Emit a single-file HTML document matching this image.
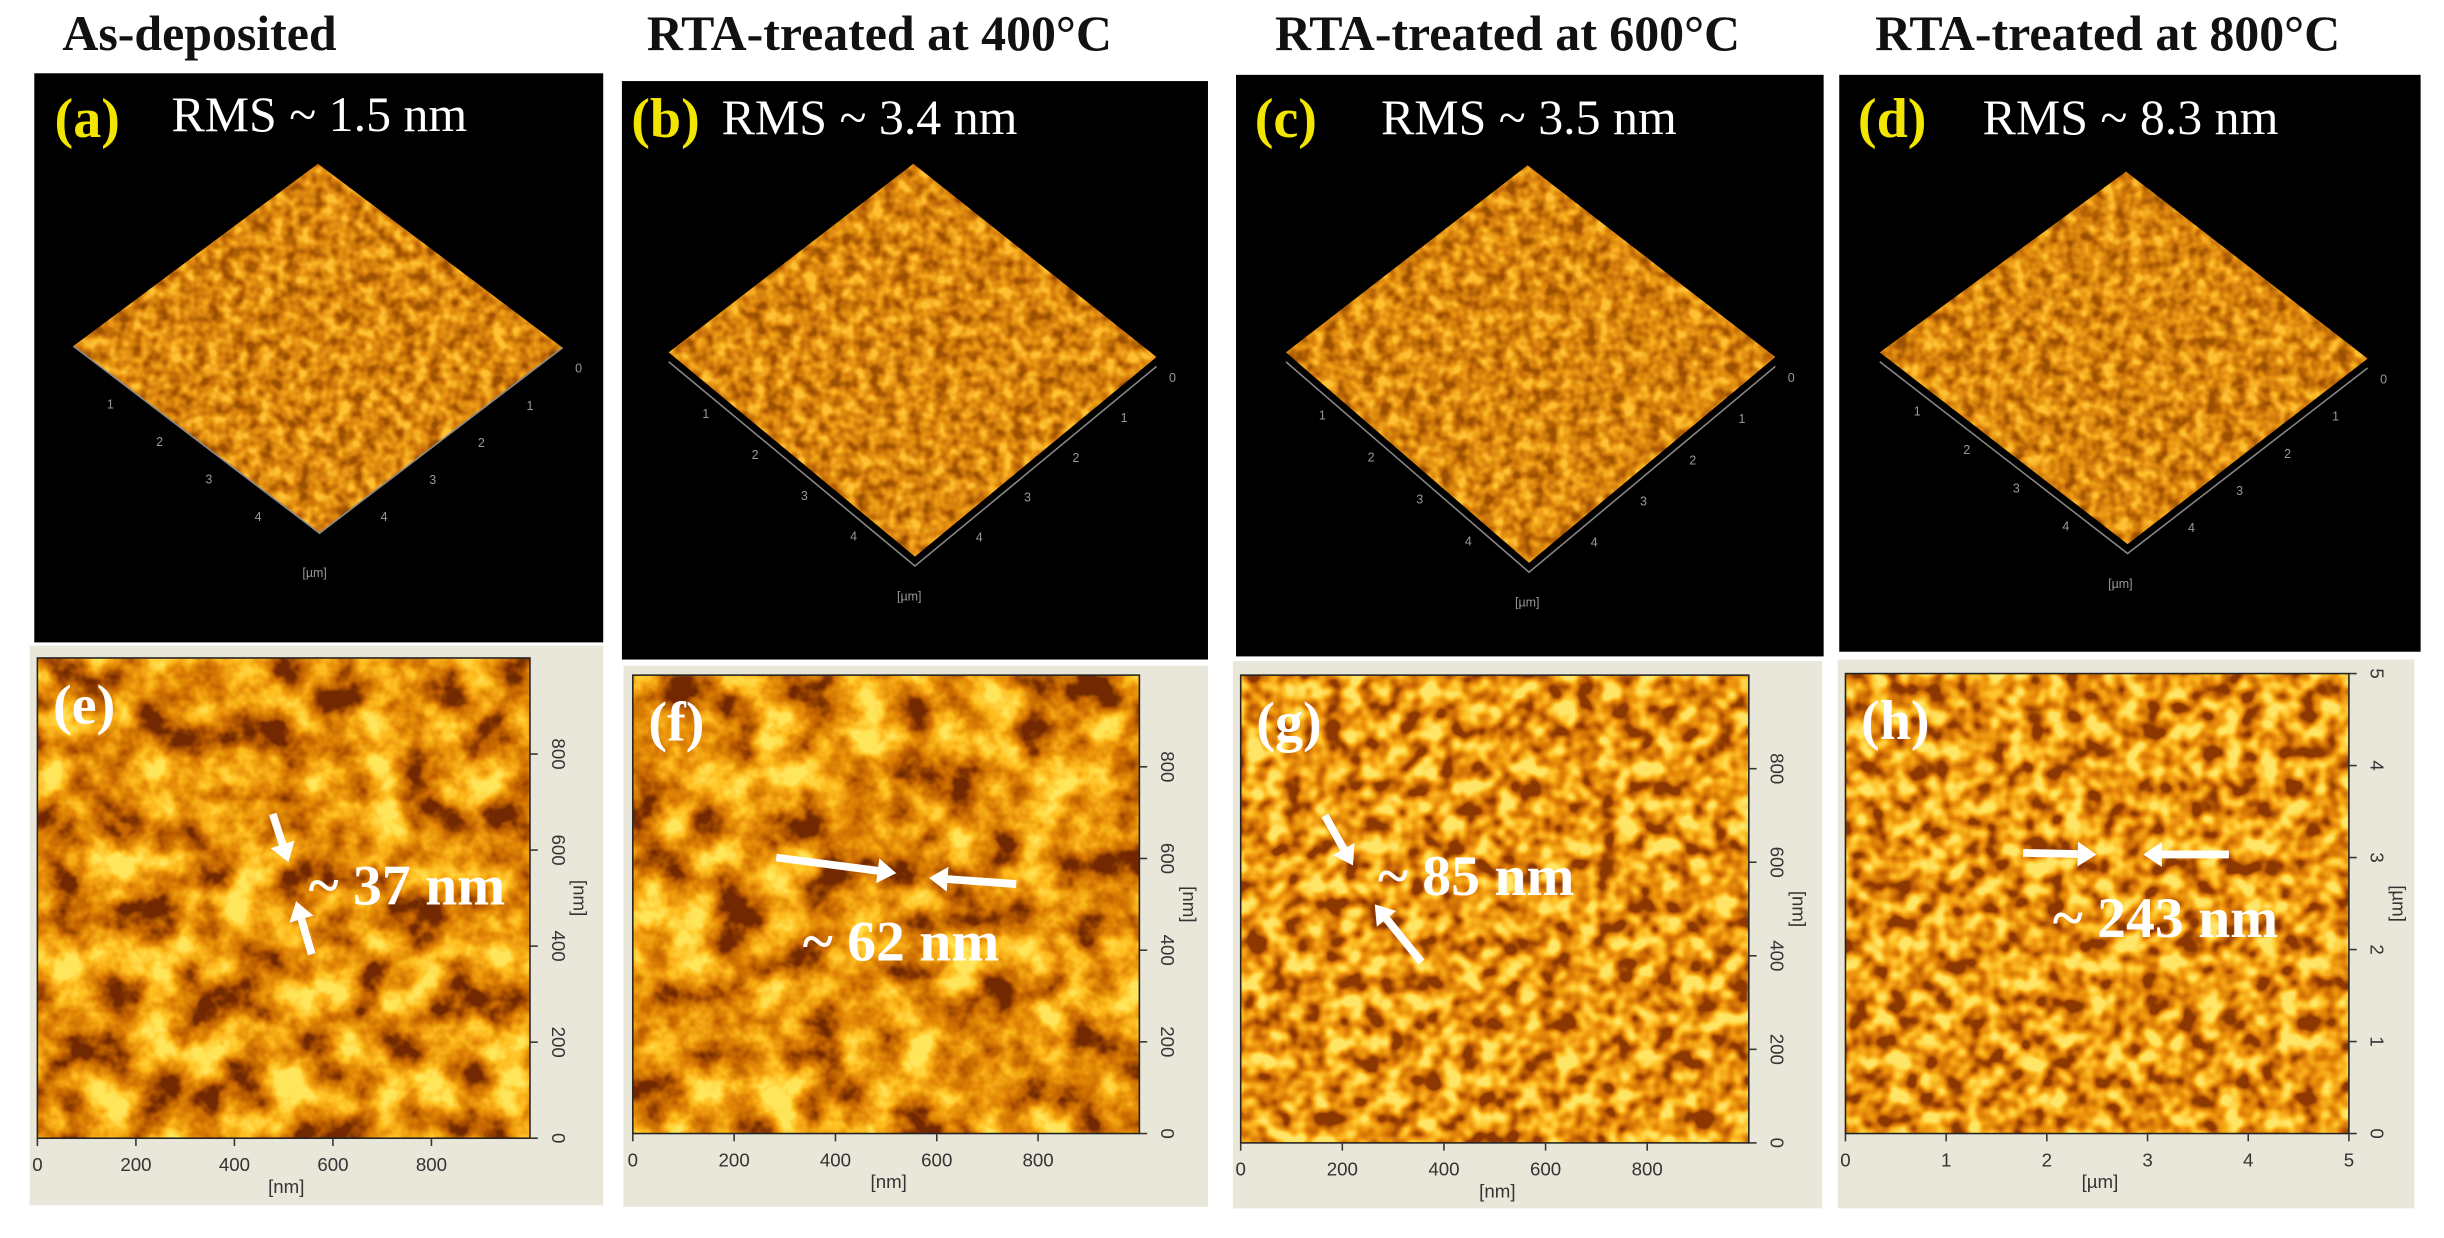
<!DOCTYPE html>
<html><head><meta charset="utf-8"><style>
html,body{margin:0;padding:0;background:#fff;}
svg{display:block;}
.ttl{font-family:"Liberation Serif",serif;font-weight:bold;font-size:32px;fill:#111;}
.lab{font-family:"Liberation Serif",serif;font-weight:bold;font-size:36px;fill:#f2e600;}
.labw{font-family:"Liberation Serif",serif;font-weight:bold;font-size:36px;fill:#fff;}
.rms{font-family:"Liberation Serif",serif;font-size:32px;fill:#fff;}
.meas{font-family:"Liberation Serif",serif;font-weight:bold;font-size:37px;fill:#fff;}
.tk{font-family:"Liberation Sans",sans-serif;font-size:12px;fill:#333;}
.tk3{font-family:"Liberation Sans",sans-serif;font-size:8px;fill:#999;}
</style></head><body>
<svg id="fig" width="2444" height="1238" viewBox="0 0 1568 794" preserveAspectRatio="none" xmlns="http://www.w3.org/2000/svg">
<defs>
<filter id="tx0" x="0" y="0" width="1" height="1" color-interpolation-filters="sRGB"><feTurbulence type="fractalNoise" baseFrequency="0.12" numOctaves="2" seed="3"/><feColorMatrix type="matrix" values="2 0 0 0 -0.5 2 0 0 0 -0.5 2 0 0 0 -0.5 0 0 0 0 1"/><feComponentTransfer><feFuncR type="table" tableValues="0.62 0.8 0.92 1"/><feFuncG type="table" tableValues="0.32 0.46 0.6 0.76"/><feFuncB type="table" tableValues="0 0.04 0.08 0.2"/></feComponentTransfer></filter>
<filter id="tx1" x="0" y="0" width="1" height="1" color-interpolation-filters="sRGB"><feTurbulence type="fractalNoise" baseFrequency="0.035" numOctaves="4" seed="7"/><feColorMatrix type="matrix" values="2.2 0 0 0 -0.6 2.2 0 0 0 -0.6 2.2 0 0 0 -0.6 0 0 0 0 1"/><feComponentTransfer><feFuncR type="table" tableValues="0.45 0.75 0.9 1 1"/><feFuncG type="table" tableValues="0.16 0.38 0.55 0.74 0.9"/><feFuncB type="table" tableValues="0 0 0.03 0.12 0.35"/></feComponentTransfer></filter>
<filter id="tx2" x="0" y="0" width="1" height="1" color-interpolation-filters="sRGB"><feTurbulence type="fractalNoise" baseFrequency="0.08" numOctaves="2" seed="11"/><feColorMatrix type="matrix" values="2.4 0 0 0 -0.7 2.4 0 0 0 -0.7 2.4 0 0 0 -0.7 0 0 0 0 1"/><feComponentTransfer><feFuncR type="table" tableValues="0.55 0.8 0.93 1 1"/><feFuncG type="table" tableValues="0.22 0.42 0.58 0.76 0.9"/><feFuncB type="table" tableValues="0 0.02 0.05 0.16 0.4"/></feComponentTransfer></filter>
</defs>
<g id="root"></g>
</svg>
<script>
const NS='http://www.w3.org/2000/svg';
const root=document.getElementById('root');
const titles=['As-deposited','RTA-treated at 400°C','RTA-treated at 600°C','RTA-treated at 800°C'];
const titleX=[40,415,818,1203];
const topLabels=['(a)','(b)','(c)','(d)'];
const rmsText=['RMS ~ 1.5 nm','RMS ~ 3.4 nm','RMS ~ 3.5 nm','RMS ~ 8.3 nm'];
const botLabels=['(e)','(f)','(g)','(h)'];
const measText=['~ 37 nm','~ 62 nm','~ 85 nm','~ 243 nm'];
const nmTicks=['0','200','400','600','800'];
const nmTickVals=[0,200,400,600,800];
const umTicks=['0','1','2','3','4','5'];
const umTickVals=[0,1,2,3,4,5];
const tickVals3d=[1,2,3,4];
const blackBox=[[22,47,365,365],[399,52,376,371],[793,48,377,373],[1180,48,373,370]];
const diamonds=[[[204,105],[47,222],[205,342],[361,223]],[[586,105],[429,226],[587,357],[742,229]],[[980,106],[825,226],[981,361],[1139,229]],[[1364,110],[1206,226],[1365,349],[1519,230]]];
const beige=[[19,414,368,359],[400,427,375,347],[791,424,378,351],[1179,423,370,352]];
const img=[[24,422,316,308],[406,433,325,294],[796,433,326,300],[1184,432,323,295]];
const arrows=[[[175,522,185,553],[200,612,190,578]],[[498,550,575,560],[652,567,596,563]],[[850,523,868,555],[912,617,882,580]],[[1298,547,1345,548],[1430,548,1375,548]]];
const measPos=[[198,580],[515,616],[884,574],[1317,601]];
const labPos=[[35,88],[405,88],[805,88],[1192,88]];
const rmsPos=[[110,84],[463,86],[886,86],[1272,86]];
const texMap=['tx0','tx0','tx0','tx0'];
const texBot=['tx1','tx1','tx2','tx2'];
function el(t,a,p){const e=document.createElementNS(NS,t);for(const k in a)e.setAttribute(k,a[k]);(p||root).appendChild(e);return e;}
function txt(s,a,p){const e=el('text',a,p);e.textContent=s;return e;}
for(let i=0;i<4;i++){
  const g=el('g',{});
  
  
  const t=txt(titles[i],{x:titleX[i],y:32,class:'ttl'},g);
  
  
  const b=blackBox[i];
  const bk=el('rect',{x:b[0],y:b[1],width:b[2],height:b[3],fill:'#000'},g);
  
  
  const d=diamonds[i];
  const pts=d.map(p=>p.join(',')).join(' ');
  const cp=el('clipPath',{id:'cp'+i},g);
  el('polygon',{points:pts},cp);
  const minx=d[1][0],maxx=d[3][0],miny=d[0][1],maxy=d[2][1];
  const sf=el('rect',{x:minx,y:miny,width:maxx-minx,height:maxy-miny,fill:'#c80',filter:'url(#'+texMap[i]+')','clip-path':'url(#cp'+i+')'},g);
  
  
  const off=i==0?0:6;
  el('polyline',{points:(d[1][0])+','+(d[1][1]+off)+' '+d[2][0]+','+(d[2][1]+off)+' '+d[3][0]+','+(d[3][1]+off),fill:'none',stroke:'#888','stroke-width':1},g);
  tickVals3d.forEach(v=>{
    const f=v/5;
    const lx=d[1][0]+(d[2][0]-d[1][0])*f-10, ly=d[1][1]+(d[2][1]-d[1][1])*f+16;
    const a=txt(String(v),{x:lx,y:ly,class:'tk3'},g);
    
    
    const rx=d[3][0]+(d[2][0]-d[3][0])*f+8, ry=d[3][1]+(d[2][1]-d[3][1])*f+16;
    const c=txt(String(v),{x:rx,y:ry,class:'tk3'},g);
    
    
  });
  txt('0',{x:d[3][0]+8,y:d[3][1]+16,class:'tk3'},g);
  const um=txt('[µm]',{x:(d[1][0]+d[3][0])/2-10,y:d[2][1]+28,class:'tk3'},g);
  
  
  const la=txt(topLabels[i],{x:labPos[i][0],y:labPos[i][1],class:'lab'},g);
  
  
  const rm=txt(rmsText[i],{x:rmsPos[i][0],y:rmsPos[i][1],class:'rms'},g);
  
  
  const be=beige[i];
  const bg=el('rect',{x:be[0],y:be[1],width:be[2],height:be[3],fill:'#e9e6da'},g);
  
  
  const im=img[i];
  const r=el('rect',{x:im[0],y:im[1],width:im[2],height:im[3],fill:'#c80',filter:'url(#'+texBot[i]+')'},g);
  
  
  el('rect',{x:im[0],y:im[1],width:im[2],height:im[3],fill:'none',stroke:'#222','stroke-width':1},g);
  const isUm=i==3;
  const vals=isUm?umTickVals:nmTickVals, labs=isUm?umTicks:nmTicks, max=isUm?5:1000;
  const xs=v=>im[0]+v/max*im[2];
  const ys=v=>im[1]+im[3]-v/max*im[3];
  vals.forEach((v,k)=>{
    el('line',{x1:xs(v),x2:xs(v),y1:im[1]+im[3],y2:im[1]+im[3]+5,stroke:'#333'},g);
    const tl=txt(labs[k],{x:xs(v),y:im[1]+im[3]+21,class:'tk','text-anchor':'middle'},g);
    
    
    el('line',{x1:im[0]+im[2],x2:im[0]+im[2]+5,y1:ys(v),y2:ys(v),stroke:'#333'},g);
    const yl=txt(labs[k],{x:0,y:0,class:'tk','text-anchor':'middle',transform:'translate('+(im[0]+im[2]+14)+','+ys(v)+') rotate(90)'},g);
    
    
  });
  const unit=isUm?'[µm]':'[nm]';
  const xu=txt(unit,{x:im[0]+im[2]/2-10,y:im[1]+im[3]+35,class:'tk','font-size':10},g);
  
  
  const yu=txt(unit,{x:0,y:0,class:'tk','font-size':10,'text-anchor':'middle',transform:'translate('+(im[0]+im[2]+28)+','+(im[1]+im[3]/2)+') rotate(90)'},g);
  
  
  const lb=txt(botLabels[i],{x:im[0]+10,y:im[1]+42,class:'labw'},g);
  
  
  arrows[i].forEach(a=>{
    const [x1,y1,x2,y2]=a;
    const ang=Math.atan2(y2-y1,x2-x1);
    const hx=x2-12*Math.cos(ang), hy=y2-12*Math.sin(ang);
    const ln=el('line',{x1:x1,y1:y1,x2:hx,y2:hy,stroke:'#fff','stroke-width':5},g);
    
    
    const px=-Math.sin(ang)*8, py=Math.cos(ang)*8;
    el('polygon',{points:x2+','+y2+' '+(hx+px)+','+(hy+py)+' '+(hx-px)+','+(hy-py),fill:'#fff'},g);
  });
  const mp=measPos[i];
  const m=txt(measText[i],{x:mp[0],y:mp[1],class:'meas'},g);
  
  
}
</script>
</body></html>
